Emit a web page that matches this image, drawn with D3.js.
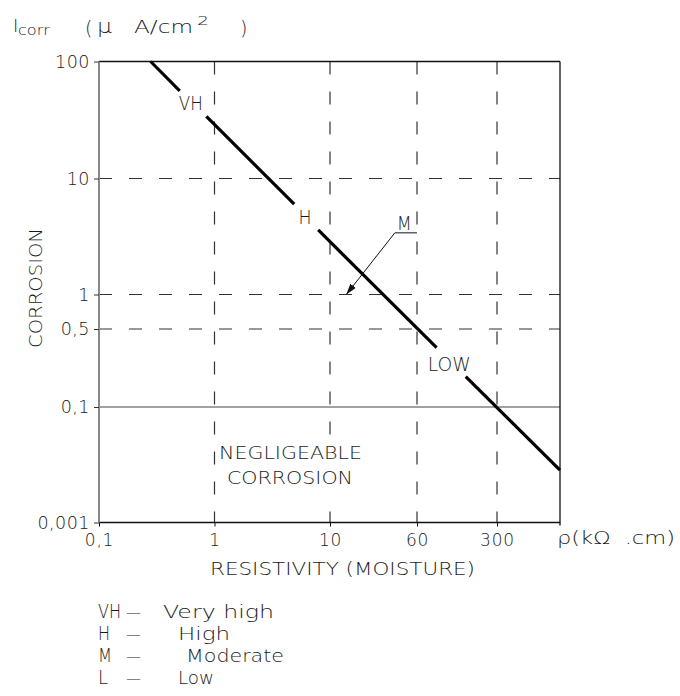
<!DOCTYPE html>
<html><head><meta charset="utf-8">
<script src="https://cdn.jsdelivr.net/npm/d3@7"></script>
<style>
body{margin:0;background:#fff;}
svg text{font-family:"DejaVu Sans",sans-serif;font-weight:200;fill:#1a1a1a;white-space:pre;}
</style></head><body><svg id="c" width="680" height="696"></svg>
<script>
// ---------- data ----------
const xTicks = [0.1, 1, 10, 60, 300];
const xTickLabels = ["0,1", "1", "10", "60", "300"];
const yTicks = [100, 10, 1, 0.5, 0.1, 0.001];
const yTickLabels = ["100", "10", "1", "0,5", "0,1", "0,001"];
const dashedX = [1, 10, 60, 300];
const dashedY = [10, 1, 0.5];
const solidY = [0.1];
const xDomainEnd = 1000;
// corrosion rate line, broken around its zone labels (resistivity kΩ·cm, Icorr µA/cm²)
const segStartRes = [0.28, 0.85, 7.9, 160];
const segStartI = [100, 34, 3.6, 0.187];
const segEndRes = [0.5, 4.9, 89, 1000];
const segEndI = [56, 6.0, 0.34, 0.0081];
const zoneLabels = ["VH", "H", "M", "LOW"];
const zoneLabelRes = [0.49, 5.33, 39.5, 74.4];
const zoneLabelI = [38.5, 4.05, 3.6, 0.211];
// "M" leader: underline start/end and arrow target
const leaderRes = [60, 38, 14];
const leaderI = [3.4, 3.4, 1];
const legendAbbr = ["VH", "H", "M", "L"];
const legendText = ["Very high", "High", "Moderate", "Low"];

// ---------- scales ----------
const svg = d3.select("#c");
const x = d3.scaleLog().domain([0.1, 1, 10, 60, 300, xDomainEnd]).range([99, 214.5, 330, 417, 497, 560]);
const y = d3.scaleLog().domain([0.001, 0.1, 0.5, 1, 10, 100]).range([522.5, 407, 329, 294.5, 178.5, 61.5]);
const X0 = x(0.1), X1 = x(xDomainEnd), Y0 = y(0.001), Y1 = y(100);

const defs = svg.append("defs");
defs.append("marker").attr("id", "arr").attr("markerUnits", "userSpaceOnUse")
  .attr("markerWidth", 11).attr("markerHeight", 7).attr("refX", 11).attr("refY", 3.5)
  .attr("orient", "auto")
  .append("path").attr("d", "M0,0L11,3.5L0,7Z").attr("fill", "#111");

// grid
svg.selectAll(".vd").data(dashedX).enter().append("line")
  .attr("x1", d => x(d)).attr("x2", d => x(d)).attr("y1", Y1).attr("y2", Y0)
  .attr("stroke", "#333").attr("stroke-width", 1.2).attr("stroke-dasharray", "13,17");
svg.selectAll(".hd").data(dashedY).enter().append("line")
  .attr("x1", X0).attr("x2", X1).attr("y1", d => y(d)).attr("y2", d => y(d))
  .attr("stroke", "#333").attr("stroke-width", 1.2).attr("stroke-dasharray", "13,17");
svg.selectAll(".hs").data(solidY).enter().append("line")
  .attr("x1", X0).attr("x2", X1).attr("y1", d => y(d)).attr("y2", d => y(d))
  .attr("stroke", "#444").attr("stroke-width", 1.2);

// white box behind negligible corrosion text
svg.append("rect").attr("x", 217).attr("y", 440).attr("width", 149).attr("height", 56).attr("fill", "#fff");

// frame
svg.append("line").attr("x1", X0).attr("x2", X1).attr("y1", Y1).attr("y2", Y1).attr("stroke", "#111").attr("stroke-width", 1.3);
svg.append("line").attr("x1", X1).attr("x2", X1).attr("y1", Y1).attr("y2", Y0 + 3).attr("stroke", "#111").attr("stroke-width", 1.3);

// axes
const ax = svg.append("g").attr("transform", `translate(0,${Y0})`)
  .call(d3.axisBottom(x).tickValues(xTicks).tickFormat((d, i) => xTickLabels[i]).tickSize(4).tickPadding(7));
ax.select(".domain").attr("stroke", "#111").attr("stroke-width", 1.3).attr("d", `M${X0},0H${X1}`);
ax.selectAll(".tick line").attr("stroke", "#111");
ax.selectAll("text").attr("font-size", 17).attr("font-family", null).attr("letter-spacing", 0.8);

const ay = svg.append("g").attr("transform", `translate(${X0},0)`)
  .call(d3.axisLeft(y).tickValues(yTicks).tickFormat((d, i) => yTickLabels[i]).tickSize(5).tickPadding(4));
ay.select(".domain").attr("stroke", "#888").attr("stroke-width", 2).attr("d", `M0,${Y1}V${Y0}`);
ay.selectAll(".tick line").attr("stroke", "#333");
ay.selectAll("text").attr("font-size", 17.5).attr("font-family", null).attr("letter-spacing", 0.5);

// corrosion line
svg.selectAll(".seg").data(segStartRes).enter().append("line")
  .attr("x1", (d, i) => x(segStartRes[i])).attr("y1", (d, i) => y(segStartI[i]))
  .attr("x2", (d, i) => x(segEndRes[i])).attr("y2", (d, i) => y(segEndI[i]))
  .attr("stroke", "#000").attr("stroke-width", 3.2);

// zone labels
svg.selectAll(".zl").data(zoneLabels).enter().append("text")
  .attr("x", (d, i) => x(zoneLabelRes[i])).attr("y", (d, i) => y(zoneLabelI[i]))
  .attr("font-size", 19).text(d => d)
  .attr("textLength", (d, i) => [24, 13, 15, 43][i]).attr("lengthAdjust", "spacingAndGlyphs");

// M leader
svg.append("line").attr("x1", x(leaderRes[1])).attr("x2", x(leaderRes[0]))
  .attr("y1", y(leaderI[0])).attr("y2", y(leaderI[0])).attr("stroke", "#111").attr("stroke-width", 1);
svg.append("line").attr("x1", x(leaderRes[1])).attr("y1", y(leaderI[1]))
  .attr("x2", x(leaderRes[2])).attr("y2", y(leaderI[2]))
  .attr("stroke", "#111").attr("stroke-width", 1).attr("marker-end", "url(#arr)");

// texts
function t(txt, tx, ty, opts = {}) {
  const e = svg.append("text").attr("x", tx).attr("y", ty).attr("font-size", opts.size || 18).text(txt);
  if (opts.len) e.attr("textLength", opts.len).attr("lengthAdjust", "spacingAndGlyphs");
  if (opts.anchor) e.attr("text-anchor", opts.anchor);
  if (opts.rot) e.attr("transform", `rotate(${opts.rot},${tx},${ty})`);
  return e;
}
// title
t("I", 13, 32, {size: 18});
t("corr", 18, 35, {size: 14, len: 32});
t("(", 85, 35, {size: 19});
t("μ", 97, 33, {size: 19, len: 15});
t("A/cm", 134, 33, {size: 18, len: 59});
t("2", 197, 25, {size: 13, len: 12});
t(")", 240, 35, {size: 19});

// axis titles
t("CORROSION", 42, 288, {rot: -90, anchor: "middle", len: 120});
t("RESISTIVITY (MOISTURE)", 210, 575, {len: 265});
t("ρ(kΩ  .cm)", 557, 544, {len: 118});

// negligible zone
t("NEGLIGEABLE", 219, 459, {len: 143});
t("CORROSION", 227, 484, {len: 126});

// legend
const legX = [98, 98, 98, 98];
const legBase = [618, 640, 662, 684];
const abbrLen = [23, 12, 14, 10];
const dashX = [126, 126, 126, 126];
const descX = [163, 178, 186, 178];
const descLen = [111, 52, 98, 36];
legendAbbr.forEach((a, i) => {
  t(a, legX[i], legBase[i], {size: 19, len: abbrLen[i]});
  t("—", dashX[i], legBase[i], {size: 15});
  t(legendText[i], descX[i], legBase[i], {len: descLen[i]});
});
</script></body></html>
